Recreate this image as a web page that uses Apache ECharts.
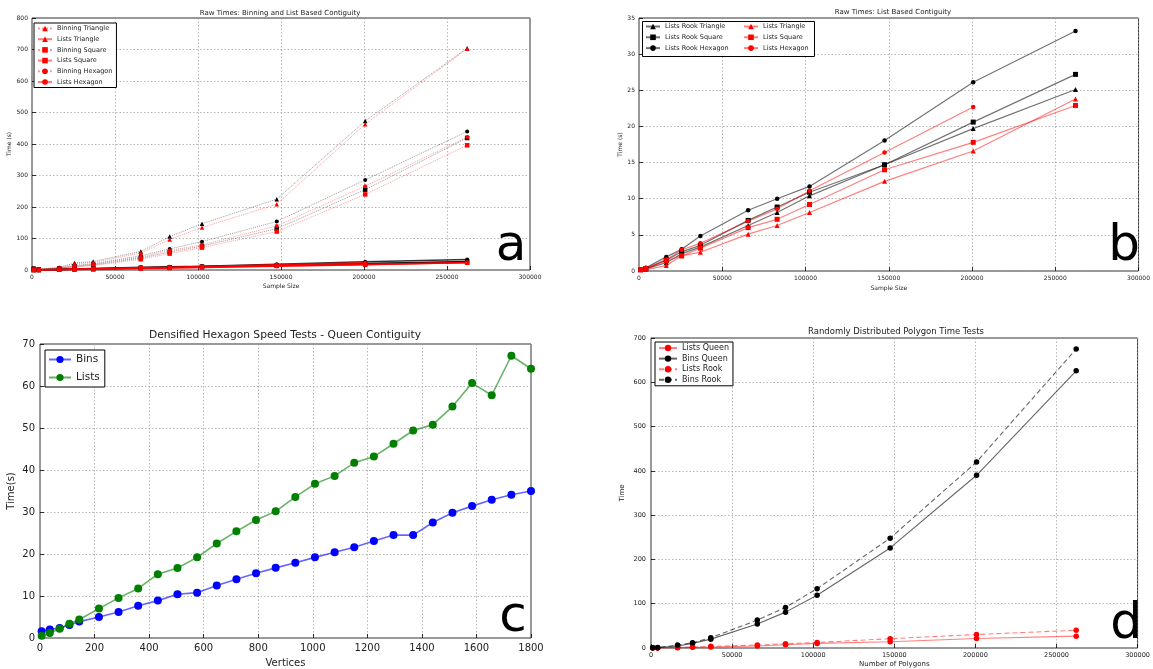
<!DOCTYPE html>
<html>
<head>
<meta charset="utf-8">
<script src="https://cdn.jsdelivr.net/npm/echarts@6/dist/echarts.min.js"></script>
<style>
  html, body { margin: 0; padding: 0; background: #fff; }
  #chart { width: 1153px; height: 669px; }
</style>
</head>
<body>
<div id="chart"></div>
<script>
// ---- data -------------------------------------------------------------
// sample sizes (number of polygons) used in panels a, b and d
const sampleSizes = [1024, 4096, 16384, 25600, 36864, 65536, 82944, 102400, 147456, 200704, 262144];

// panel a: binning timings (seconds), queen (red) and rook (black)
const binQueenTriangle = [5, 2, 7, 19, 24, 54, 97, 135, 209, 463, 702];
const binQueenSquare   = [3, 1, 4, 9, 14, 34, 52, 71, 122, 240, 396];
const binQueenHexagon  = [4, 2, 5, 12, 18, 41, 62, 80, 140, 266, 422];
const binRookTriangle  = [6, 3, 8, 22, 27, 59, 106, 147, 225, 473, 704];
const binRookSquare    = [4, 2, 5, 11, 16, 38, 57, 76, 131, 255, 419];
const binRookHexagon   = [5, 2, 6, 14, 20, 45, 67, 90, 154, 286, 440];

// panels a and b: list based timings (seconds)
const listsRookTriangle = [0.2, 0.3, 1.15, 2.4, 3.3, 6.3, 8.1, 10.4, 14.7, 19.7, 25.1];
const listsRookSquare   = [0.2, 0.35, 1.5, 2.65, 3.55, 7.0, 8.85, 10.9, 14.7, 20.6, 27.2];
const listsRookHexagon  = [0.25, 0.45, 1.95, 3.0, 4.85, 8.4, 10.0, 11.7, 18.05, 26.1, 33.2];
const listsTriangle     = [0.15, 0.2, 0.75, 2.1, 2.6, 5.1, 6.3, 8.1, 12.4, 16.6, 23.8];
const listsSquare       = [0.2, 0.3, 1.45, 2.1, 3.15, 6.0, 7.15, 9.2, 14.0, 17.8, 22.9];
const listsHexagon      = [0.25, 0.4, 1.6, 2.9, 3.85, 6.9, 8.6, 11.1, 16.4, 22.7, null];

// panel c: densified hexagons
const vertexCounts = [6, 36, 72, 108, 144, 216, 288, 360, 432, 504, 576, 648, 720, 792, 864,
                      936, 1008, 1080, 1152, 1224, 1296, 1368, 1440, 1512, 1584, 1656, 1728, 1800];
const binsTimes  = [1.6, 2.0, 2.4, 3.1, 3.9, 5.0, 6.2, 7.7, 8.9, 10.4, 10.8, 12.5, 14.0, 15.4, 16.7,
                    17.9, 19.2, 20.4, 21.6, 23.1, 24.5, 24.5, 27.5, 29.8, 31.4, 32.9, 34.1, 35.0];
const listsTimes = [0.55, 1.2, 2.2, 3.4, 4.4, 7.0, 9.55, 11.8, 15.2, 16.65, 19.2, 22.5, 25.4, 28.1, 30.15,
                    33.6, 36.7, 38.6, 41.7, 43.2, 46.25, 49.4, 50.8, 55.1, 60.7, 57.8, 67.2, 64.1];

// panel d: randomly distributed polygons
const listsQueenRandom = [0.1, 0.2, 0.8, 1.5, 2.2, 4.5, 7.4, 10.4, 14.1, 21.6, 26.8];
const binsQueenRandom  = [0.4, 0.8, 4.5, 10.5, 20, 54, 81, 119, 226, 390, 626];
const listsRookRandom  = [0.1, 0.3, 1.0, 2.2, 3.7, 6.7, 9.7, 12.6, 21, 30.5, 40];
const binsRookRandom   = [0.5, 1, 6.7, 12, 23, 63, 91.5, 134, 248, 420, 675];

// axis ticks
const sampleTicks   = [0, 50000, 100000, 150000, 200000, 250000, 300000];
const timeTicksA    = [0, 100, 200, 300, 400, 500, 600, 700, 800];
const timeTicksB    = [0, 5, 10, 15, 20, 25, 30, 35];
const vertexTicks   = [0, 200, 400, 600, 800, 1000, 1200, 1400, 1600, 1800];
const timeTicksC    = [0, 10, 20, 30, 40, 50, 60, 70];
const timeTicksD    = [0, 100, 200, 300, 400, 500, 600, 700];

// ---- helpers ----------------------------------------------------------
const FONT = 'DejaVu Sans';

function pairs(xs, ys) {
  const out = [];
  xs.forEach((x, i) => { if (ys[i] !== null && ys[i] !== undefined) out.push([x, ys[i]]); });
  return out;
}

function valueAxis(gridIndex, ticks, o) {
  return {
    type: 'value', gridIndex,
    min: ticks[0], max: ticks[ticks.length - 1], interval: ticks[1] - ticks[0],
    name: o.name, nameLocation: 'middle', nameGap: o.nameGap,
    nameTextStyle: { fontSize: o.nameSize, color: '#222', fontFamily: FONT },
    axisLine: { show: false },
    axisTick: { show: true, inside: true, length: 4, lineStyle: { color: '#000', width: 0.8 } },
    axisLabel: { fontSize: o.labelSize, color: '#222', margin: o.margin, fontFamily: FONT,
                 formatter: v => String(v) },
    splitLine: { show: true, lineStyle: { color: '#9a9a9a', width: 0.7, type: [1.5, 2] } }
  };
}

function line(name, idx, xs, ys, o) {
  return {
    name, type: 'line', xAxisIndex: idx, yAxisIndex: idx,
    data: pairs(xs, ys),
    symbol: o.symbol || 'circle', symbolSize: o.size || 5,
    showSymbol: true,
    itemStyle: { color: o.color, borderWidth: 0 },
    lineStyle: { color: o.lineColor || o.color, width: o.width || 1, type: o.type || 'solid' },
    z: o.z || 2
  };
}

const RED = '#ff0000', BLACK = '#000000';
const redDot = 'rgba(255,0,0,0.4)', blackDot = 'rgba(0,0,0,0.4)';
const redLine = 'rgba(255,0,0,0.5)', blackLine = 'rgba(0,0,0,0.55)';

// ---- series -----------------------------------------------------------
const series = [
  // panel b
  line('Lists Rook Triangle', 1, sampleSizes, listsRookTriangle, { color: BLACK, lineColor: blackLine, symbol: 'triangle', size: 5, width: 1.2 }),
  line('Lists Rook Square',   1, sampleSizes, listsRookSquare,   { color: BLACK, lineColor: blackLine, symbol: 'rect', size: 5, width: 1.2 }),
  line('Lists Rook Hexagon',  1, sampleSizes, listsRookHexagon,  { color: BLACK, lineColor: blackLine, symbol: 'circle', size: 4.5, width: 1.2 }),
  line('Lists Triangle',      1, sampleSizes, listsTriangle,     { color: RED, lineColor: redLine, symbol: 'triangle', size: 5, width: 1.2 }),
  line('Lists Square',        1, sampleSizes, listsSquare,       { color: RED, lineColor: redLine, symbol: 'rect', size: 5, width: 1.2 }),
  line('Lists Hexagon',       1, sampleSizes, listsHexagon,      { color: RED, lineColor: redLine, symbol: 'circle', size: 4.5, width: 1.2 }),

  // panel a: binning (dotted)
  line('Binning Rook Triangle', 0, sampleSizes, binRookTriangle, { color: BLACK, lineColor: blackDot, symbol: 'triangle', size: 4.5, type: 'dotted' }),
  line('Binning Rook Square',   0, sampleSizes, binRookSquare,   { color: BLACK, lineColor: blackDot, symbol: 'rect', size: 4.5, type: 'dotted' }),
  line('Binning Rook Hexagon',  0, sampleSizes, binRookHexagon,  { color: BLACK, lineColor: blackDot, symbol: 'circle', size: 4, type: 'dotted' }),
  line('Binning Triangle', 0, sampleSizes, binQueenTriangle, { color: RED, lineColor: redDot, symbol: 'triangle', size: 4.5, type: 'dotted' }),
  line('Binning Square',   0, sampleSizes, binQueenSquare,   { color: RED, lineColor: redDot, symbol: 'rect', size: 4.5, type: 'dotted' }),
  line('Binning Hexagon',  0, sampleSizes, binQueenHexagon,  { color: RED, lineColor: redDot, symbol: 'circle', size: 4, type: 'dotted' }),
  // panel a: lists (solid)
  line('Lists Rook Triangle', 0, sampleSizes, listsRookTriangle, { color: BLACK, lineColor: 'rgba(0,0,0,0.8)', symbol: 'triangle', size: 4.5, width: 1.6 }),
  line('Lists Rook Square',   0, sampleSizes, listsRookSquare,   { color: BLACK, lineColor: 'rgba(0,0,0,0.8)', symbol: 'rect', size: 4.5, width: 1.6 }),
  line('Lists Rook Hexagon',  0, sampleSizes, listsRookHexagon,  { color: BLACK, lineColor: 'rgba(0,0,0,0.8)', symbol: 'circle', size: 4, width: 1.6 }),
  line('Lists Triangle', 0, sampleSizes, listsTriangle, { color: RED, lineColor: 'rgba(255,0,0,0.9)', symbol: 'triangle', size: 4.5, width: 1.6 }),
  line('Lists Square',   0, sampleSizes, listsSquare,   { color: RED, lineColor: 'rgba(255,0,0,0.9)', symbol: 'rect', size: 4.5, width: 1.6 }),
  line('Lists Hexagon',  0, sampleSizes, listsHexagon,  { color: RED, lineColor: 'rgba(255,0,0,0.9)', symbol: 'circle', size: 4, width: 1.6 }),

  // panel c
  line('Bins',  2, vertexCounts, binsTimes,  { color: '#0000ff', lineColor: 'rgba(0,0,255,0.6)', size: 8, width: 1.6 }),
  line('Lists', 2, vertexCounts, listsTimes, { color: '#007f00', lineColor: 'rgba(0,128,0,0.6)', size: 8, width: 1.6 }),

  // panel d
  line('Lists Queen', 3, sampleSizes, listsQueenRandom, { color: RED, lineColor: redLine, size: 5.5, width: 1.1 }),
  line('Bins Queen',  3, sampleSizes, binsQueenRandom,  { color: BLACK, lineColor: 'rgba(0,0,0,0.6)', size: 5.5, width: 1.1 }),
  line('Lists Rook',  3, sampleSizes, listsRookRandom,  { color: RED, lineColor: redLine, size: 5.5, width: 1.1, type: [5, 3] }),
  line('Bins Rook',   3, sampleSizes, binsRookRandom,   { color: BLACK, lineColor: 'rgba(0,0,0,0.6)', size: 5.5, width: 1.1, type: [5, 3] })
];

// ---- layout -----------------------------------------------------------
const gridStyle = { show: true, borderColor: '#333', borderWidth: 1 };
const grids = [
  Object.assign({ left: 32,  top: 18,  width: 498, height: 252 }, gridStyle),
  Object.assign({ left: 639, top: 18,  width: 505, height: 253 }, gridStyle),
  Object.assign({ left: 40,  top: 344, width: 491, height: 296 }, gridStyle),
  Object.assign({ left: 651, top: 338, width: 491, height: 313 }, gridStyle)
];

const xAxes = [
  valueAxis(0, sampleTicks, { name: 'Sample Size', nameGap: 13, nameSize: 6, labelSize: 6, margin: 4 }),
  valueAxis(1, sampleTicks, { name: 'Sample Size', nameGap: 14, nameSize: 6, labelSize: 6, margin: 4 }),
  valueAxis(2, vertexTicks, { name: 'Vertices', nameGap: 20, nameSize: 10, labelSize: 10, margin: 5 }),
  valueAxis(3, sampleTicks, { name: 'Number of Polygons', nameGap: 13, nameSize: 7, labelSize: 6.5, margin: 4 })
];
const yAxes = [
  valueAxis(0, timeTicksA, { name: 'Time (s)', nameGap: 20, nameSize: 6, labelSize: 6, margin: 4 }),
  valueAxis(1, timeTicksB, { name: 'Time (s)', nameGap: 14, nameSize: 6, labelSize: 6, margin: 4 }),
  valueAxis(2, timeTicksC, { name: 'Time(s)', nameGap: 24, nameSize: 10, labelSize: 10, margin: 5 }),
  valueAxis(3, timeTicksD, { name: 'Time', nameGap: 25, nameSize: 7, labelSize: 6.5, margin: 5 })
];

function title(text, cx, top, size) {
  return { text, left: cx, top, textAlign: 'center', padding: 0,
           textStyle: { fontSize: size, fontWeight: 'normal', color: '#222', fontFamily: FONT } };
}

const legendBase = {
  orient: 'vertical', selectedMode: false, backgroundColor: '#fff',
  borderColor: '#000', borderWidth: 1, borderRadius: 0, z: 6
};

const legends = [
  Object.assign({}, legendBase, {
    left: 34, top: 23, padding: [2, 4, 2, 3], itemWidth: 14, itemHeight: 7, itemGap: 3.7,
    textStyle: { fontSize: 6.5, color: '#222', fontFamily: FONT },
    data: ['Binning Triangle', 'Lists Triangle', 'Binning Square', 'Lists Square', 'Binning Hexagon', 'Lists Hexagon']
  }),
  Object.assign({}, legendBase, {
    left: 643, top: 22, padding: [1, 2], itemWidth: 14, itemHeight: 7, itemGap: 3.8,
    backgroundColor: 'transparent', borderWidth: 0,
    textStyle: { fontSize: 6.5, color: '#222', fontFamily: FONT },
    data: ['Lists Rook Triangle', 'Lists Rook Square', 'Lists Rook Hexagon']
  }),
  Object.assign({}, legendBase, {
    left: 741, top: 22, padding: [1, 2], itemWidth: 14, itemHeight: 7, itemGap: 3.8,
    backgroundColor: 'transparent', borderWidth: 0,
    textStyle: { fontSize: 6.5, color: '#222', fontFamily: FONT },
    data: ['Lists Triangle', 'Lists Square', 'Lists Hexagon']
  }),
  Object.assign({}, legendBase, {
    left: 45, top: 350, padding: [4, 5, 4, 3], itemWidth: 22, itemHeight: 9, itemGap: 7,
    textStyle: { fontSize: 10.5, color: '#222', fontFamily: FONT },
    data: ['Bins', 'Lists']
  }),
  Object.assign({}, legendBase, {
    left: 655, top: 342, padding: [2, 4, 2, 3], itemWidth: 18, itemHeight: 8, itemGap: 2.6,
    textStyle: { fontSize: 8, color: '#222', fontFamily: FONT },
    data: ['Lists Queen', 'Bins Queen', 'Lists Rook', 'Bins Rook']
  })
];

// panel letters and the frame around panel b's two-column legend
function letter(ch, cx, cy) {
  return { type: 'text', z: 10, style: {
    text: ch, x: cx, y: cy, fill: '#000', font: '50px "DejaVu Sans"',
    align: 'center', verticalAlign: 'middle', textAlign: 'center', textVerticalAlign: 'middle' } };
}

const graphics = [
  { type: 'rect', z: 5, shape: { x: 642.5, y: 21.5, width: 172, height: 35 },
    style: { fill: '#fff', stroke: '#000', lineWidth: 1 } },
  letter('a', 511, 247),
  letter('b', 1124, 247),
  letter('c', 513, 618),
  letter('d', 1126, 625)
];

const chart = echarts.init(document.getElementById('chart'), null, { renderer: 'canvas' });
chart.setOption({
  animation: false,
  backgroundColor: '#fff',
  textStyle: { fontFamily: FONT },
  title: [
    title('Raw Times: Binning and List Based Contiguity', 280, 10, 7),
    title('Raw Times: List Based Contiguity', 893, 9, 7),
    title('Densified Hexagon Speed Tests - Queen Contiguity', 285, 330, 10.7),
    title('Randomly Distributed Polygon Time Tests', 896, 327, 8.5)
  ],
  legend: legends,
  grid: grids,
  xAxis: xAxes,
  yAxis: yAxes,
  graphic: graphics,
  series
});
</script>
</body>
</html>
